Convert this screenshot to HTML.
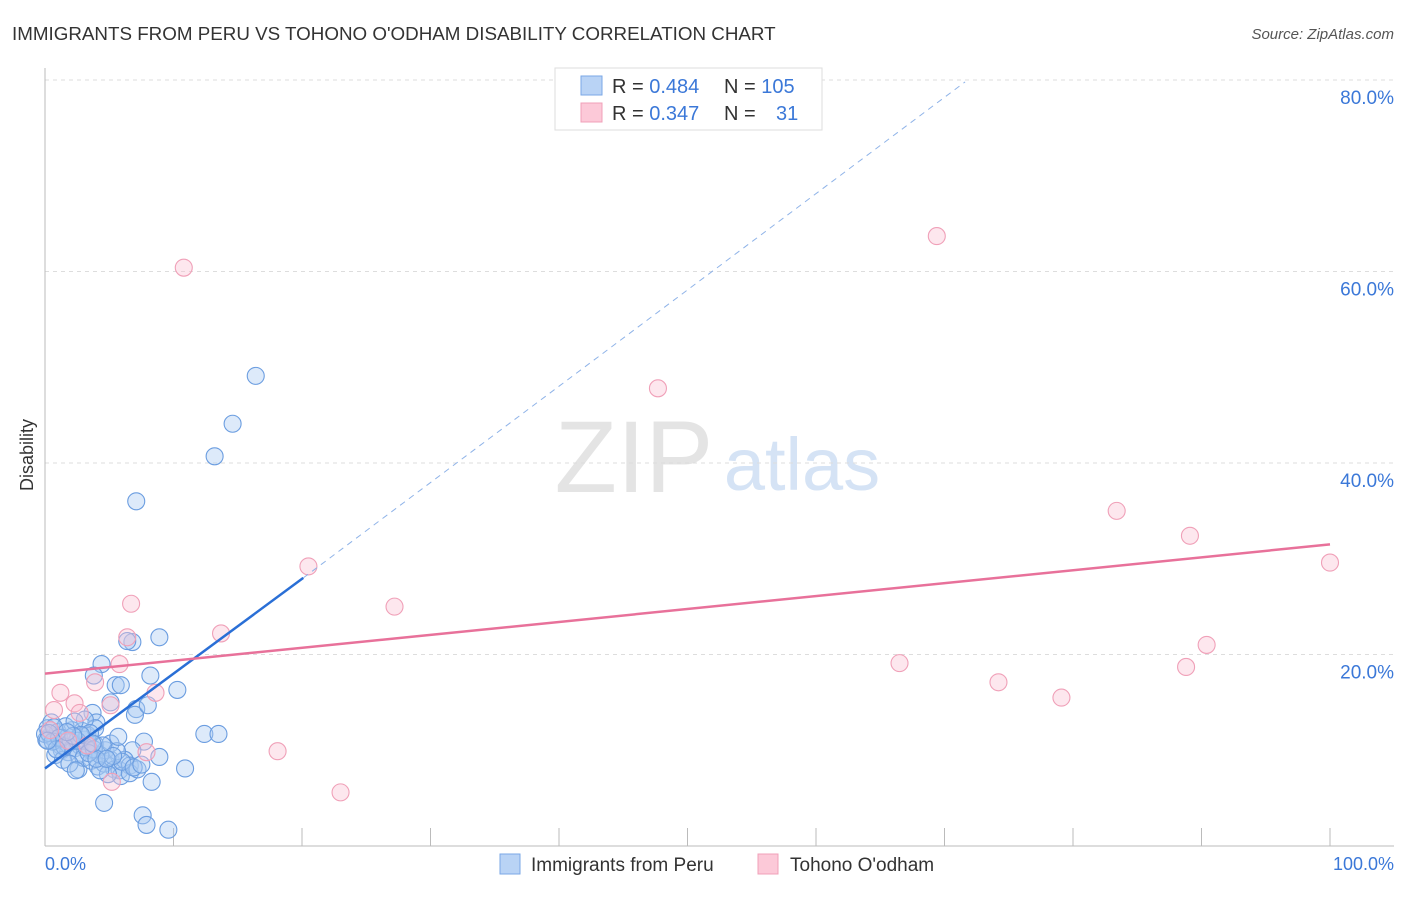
<!DOCTYPE html>
<html><head><meta charset="utf-8">
<style>
body{margin:0;background:#fff;font-family:"Liberation Sans",sans-serif;}
svg text{font-family:"Liberation Sans",sans-serif;}
</style></head>
<body>
<svg id="chart" width="1406" height="892" viewBox="0 0 1406 892" xmlns="http://www.w3.org/2000/svg">
<text x="12" y="40" font-size="18.8" fill="#333">IMMIGRANTS FROM PERU VS TOHONO O'ODHAM DISABILITY CORRELATION CHART</text>
<text x="1394" y="39" font-size="15" fill="#555" font-style="italic" text-anchor="end">Source: ZipAtlas.com</text>
<g>
<text x="634" y="492" font-size="102" fill="#e4e4e4" font-family="Liberation Serif,serif" text-anchor="middle">ZIP</text>
<text x="802" y="490" font-size="74" fill="#d5e3f5" text-anchor="middle">atlas</text>
</g>
<g id="grid"></g>
<g id="axes"></g>
<g id="pts"></g>
<g id="lines"></g>
<text x="-455" y="33" transform="rotate(-90)" font-size="18" fill="#333" text-anchor="middle">Disability</text>
<text x="45" y="870" font-size="18" fill="#3b78d8">0.0%</text>
<text x="1394" y="870" font-size="18" fill="#3b78d8" text-anchor="end">100.0%</text>
<g>
<rect x="555" y="68" width="267" height="62" fill="#fff" stroke="#ddd"/>
<rect x="581" y="76" width="21" height="19" fill="#b9d3f5" stroke="#7aa7e6"/>
<rect x="581" y="103" width="21" height="19" fill="#fcc9d8" stroke="#f0a0b8"/>
<text x="612" y="93" font-size="20" fill="#333">R = <tspan fill="#3b78d8">0.484</tspan></text>
<text x="724" y="93" font-size="20" fill="#333">N = <tspan fill="#3b78d8">105</tspan></text>
<text x="612" y="120" font-size="20" fill="#333">R = <tspan fill="#3b78d8">0.347</tspan></text>
<text x="724" y="120" font-size="20" fill="#333">N = <tspan fill="#3b78d8" x="776">31</tspan></text>
</g>
<g>
<rect x="500" y="854" width="20" height="20" fill="#b9d3f5" stroke="#7aa7e6"/>
<text x="531" y="871" font-size="19" fill="#333">Immigrants from Peru</text>
<rect x="758" y="854" width="20" height="20" fill="#fcc9d8" stroke="#f0a0b8"/>
<text x="790" y="871" font-size="19" fill="#333">Tohono O'odham</text>
</g>
</svg>
<script>
const yTicks=[20,40,60,80];
const yTickLabels=["20.0%","40.0%","60.0%","80.0%"];
const xTicks=[0,10,20,30,40,50,60,70,80,90,100];
const blueX=[16.4,14.6,13.2,7.1,8.9,6.8,6.4,4.4,5.5,5.9,8.2,10.3,3.8,5.1,7.1,7.0,8.0,3.7,4.0,12.4,13.5,7.7,6.8,8.9,10.9,8.3,4.6,7.6,7.9,9.6,2.6,
0.4,0.8,1.2,1.6,1.9,2.3,2.7,3.1,3.5,3.9,0.2,0.5,1.0,1.3,1.8,2.1,2.6,3.0,3.3,3.6,4.1,4.6,5.1,5.4,5.8,6.2,6.6,4.7,4.3,5.1,5.6,5.9,4.9,4.3,1.6,2.9,0.8,0.1,1.4,1.9,5.7,3.9,3.1,3.5,2.3,6.6,7.2,2.4,0.0,1.3,0.7,3.2,3.8,4.5,0.3,0.6,1.1,2.0,2.5,3.4,4.0,6.0,6.9,7.5,1.5,2.8,0.9,5.3,4.8,2.2,3.7,1.7,0.2];
const blueY=[49.1,44.1,40.7,36.0,21.8,21.3,21.4,19.0,16.8,16.8,17.8,16.3,17.8,15.0,14.3,13.7,14.7,13.9,12.9,11.7,11.7,10.9,10.0,9.3,8.1,6.7,4.5,3.2,2.2,1.7,8.0,
11.5,11.0,10.5,11.2,10.8,10.2,10.5,11.1,10.0,10.6,12.3,12.9,11.9,10.0,9.8,12.1,9.5,9.2,11.6,8.9,8.3,8.6,9.0,8.0,7.9,9.0,8.4,10.0,9.5,10.7,9.9,7.3,7.5,7.9,12.5,12.0,9.5,11.1,9.0,8.6,11.4,12.3,13.2,11.8,13.0,7.6,8.0,7.9,11.7,11.3,12.4,10.3,10.1,10.5,11.8,10.9,11.3,10.9,11.0,9.7,9.1,8.8,8.2,8.5,10.4,11.6,10.1,9.4,9.1,11.5,10.7,11.9,11.0];
const pinkX=[10.8,69.4,47.7,83.4,89.1,100,20.5,27.2,6.7,13.7,6.4,5.8,66.5,74.2,79.1,88.8,90.4,8.6,3.9,1.2,5.1,2.3,2.7,0.7,18.1,23.0,5.2,0.4,3.3,7.9,1.8];
const pinkY=[60.4,63.7,47.8,35.0,32.4,29.6,29.2,25.0,25.3,22.2,21.8,19.0,19.1,17.1,15.5,18.7,21.0,16.0,17.1,16.0,14.7,14.9,13.9,14.2,9.9,5.6,6.7,12.1,10.5,9.8,11.0];
const blueLine=[0,8.1,20.1,28.0,71.6,79.8];
const pinkLine=[0,18.0,100,31.5];
const NS="http://www.w3.org/2000/svg";
const X=v=>45+v*12.85, Y=v=>846-v*9.575;
function mk(p,t,a){const e=document.createElementNS(NS,t);for(const k in a)e.setAttribute(k,a[k]);document.getElementById(p).appendChild(e);return e;}
yTicks.forEach((t,i)=>{
 const g=mk('grid','line',{x1:45,x2:1394,y1:Y(t),y2:Y(t),stroke:'#ddd','stroke-dasharray':'4,4'});
 
 
 const l=mk('grid','text',{x:1394,y:Y(t)+24,'font-size':19,fill:'#3b78d8','text-anchor':'end'});
 l.textContent=yTickLabels[i];
 
 
});
const ax=mk('axes','line',{x1:45,x2:1394,y1:846,y2:846,stroke:'#bbb'});


const ay=mk('axes','line',{x1:45,x2:45,y1:68,y2:846,stroke:'#bbb'});


xTicks.forEach(t=>{const e=mk('axes','line',{x1:X(t),x2:X(t),y1:828,y2:846,stroke:'#bbb'});
 
 });
blueX.forEach((v,i)=>{const c=mk('pts','circle',{cx:X(v),cy:Y(blueY[i]),r:8.5,fill:'rgba(170,202,242,0.4)',stroke:'#6b9de0','stroke-width':1.1});
 
 });
pinkX.forEach((v,i)=>{const c=mk('pts','circle',{cx:X(v),cy:Y(pinkY[i]),r:8.5,fill:'rgba(250,195,213,0.4)',stroke:'#f0a0b8','stroke-width':1.1});
 
 });
const b1=mk('lines','line',{x1:X(blueLine[0]),y1:Y(blueLine[1]),x2:X(blueLine[2]),y2:Y(blueLine[3]),stroke:'#2a6fd6','stroke-width':2.5});


const b2=mk('lines','line',{x1:X(blueLine[2]),y1:Y(blueLine[3]),x2:X(blueLine[4]),y2:Y(blueLine[5]),stroke:'#8fb3e8','stroke-width':1,'stroke-dasharray':'6,5'});


const p1=mk('lines','line',{x1:X(pinkLine[0]),y1:Y(pinkLine[1]),x2:X(pinkLine[2]),y2:Y(pinkLine[3]),stroke:'#e8719a','stroke-width':2.5});


</script>
</body></html>
